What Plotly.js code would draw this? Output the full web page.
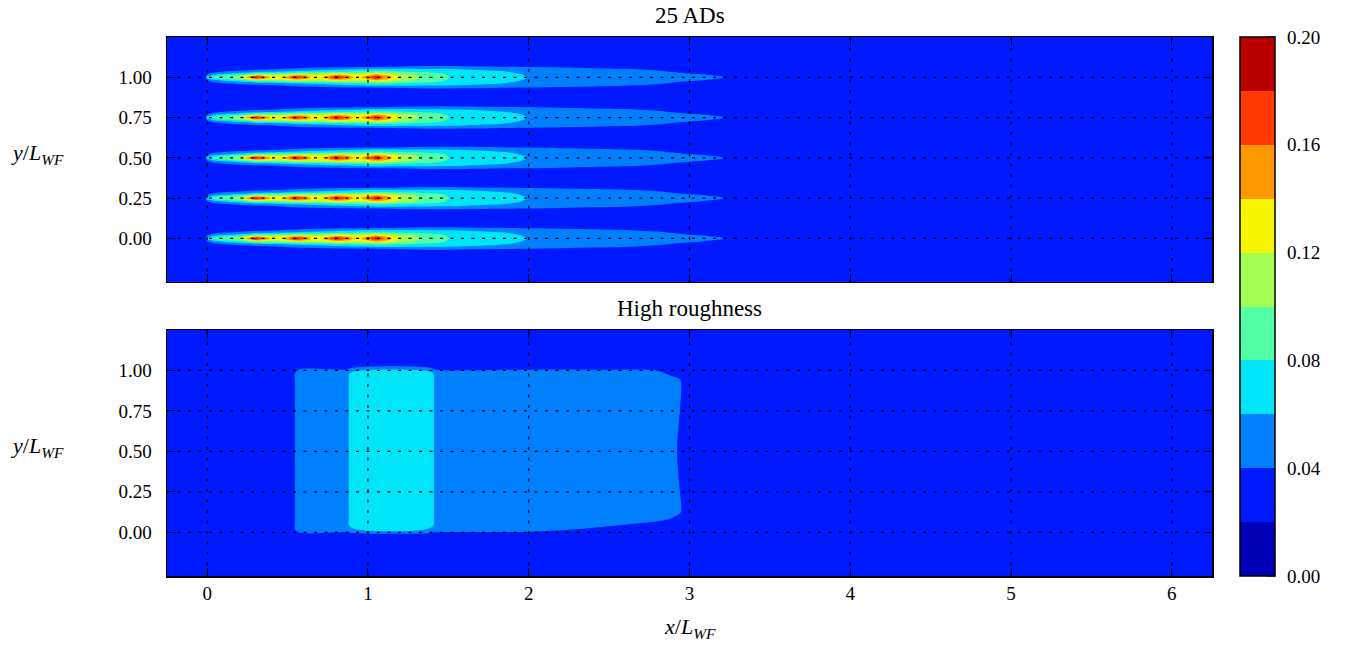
<!DOCTYPE html>
<html>
<head>
<meta charset="utf-8">
<script src="https://cdn.plot.ly/plotly-3.0.1.min.js"></script>
<style>html,body{margin:0;padding:0;background:#fff;}#chart{width:1345px;height:646px;}</style>
</head>
<body>
<div id="chart"></div>
<script>
// ---------------- DATA ----------------
// Colour levels of the filled contours
const levelStart = 0.0;
const levelEnd = 0.2;
const levelStep = 0.02;
const bandColors = ['#0000b9','#0019ff','#007fff','#00e5f7','#52ffa4','#a4ff52','#f7f500','#ff9700','#ff3900','#b90000'];
const colorbarTicks = [0.00, 0.04, 0.08, 0.12, 0.16, 0.20];
const colorbarTickText = ['0.00','0.04','0.08','0.12','0.16','0.20'];

// Axis ticks
const xTicks = [0, 1, 2, 3, 4, 5, 6];
const xTickText = ['0','1','2','3','4','5','6'];
const yTicks = [0, 0.25, 0.5, 0.75, 1.0];
const yTickText = ['0.00','0.25','0.50','0.75','1.00'];

// Ambient value of the field (outside wakes)
const background = 0.03;

// ---- Top panel "25 ADs": five identical wake rows
const wakeRowsY = [0, 0.25, 0.5, 0.75, 1.0];
// distance from the wake centre line at which values were read
const wakeOffsets = [0, 0.01, 0.02, 0.035, 0.05, 0.065, 0.08];
// streamwise sample positions
const wakeX = [-0.25, -0.01, 0.00, 0.05, 0.10, 0.15, 0.20, 0.25, 0.30, 0.35, 0.40, 0.45, 0.50, 0.55, 0.60, 0.65, 0.70,
  0.75, 0.80, 0.85, 0.90, 0.95, 1.00, 1.05, 1.10, 1.20, 1.30, 1.40, 1.50, 1.60, 1.80, 2.00, 2.20, 2.40, 2.60, 2.80,
  3.00, 3.20, 3.30, 3.50, 6.25];
// value at [x sample][offset]
const wakeValues = [
  [.03,.03,.03,.03,.03,.03,.03],
  [.03,.03,.03,.03,.03,.03,.03],
  [.075,.055,.038,.03,.03,.03,.03],
  [.088,.075,.055,.036,.03,.03,.03],
  [.092,.084,.062,.041,.031,.03,.03],
  [.097,.09,.068,.043,.032,.03,.03],
  [.11,.098,.074,.046,.033,.03,.03],
  [.15,.12,.08,.049,.034,.03,.03],
  [.188,.15,.095,.055,.036,.031,.03],
  [.165,.14,.096,.057,.037,.031,.03],
  [.137,.128,.097,.059,.039,.031,.03],
  [.133,.125,.099,.061,.041,.032,.03],
  [.152,.135,.102,.063,.043,.032,.03],
  [.188,.155,.11,.066,.045,.033,.03],
  [.166,.148,.112,.068,.047,.034,.03],
  [.137,.131,.112,.07,.049,.034,.03],
  [.134,.129,.113,.072,.051,.035,.03],
  [.153,.138,.116,.074,.053,.036,.031],
  [.188,.16,.125,.077,.055,.036,.031],
  [.168,.152,.124,.079,.057,.037,.031],
  [.142,.137,.118,.081,.059,.037,.031],
  [.137,.133,.117,.083,.061,.038,.032],
  [.155,.142,.122,.084,.063,.038,.032],
  [.188,.165,.135,.085,.065,.039,.032],
  [.158,.148,.128,.085,.065,.039,.032],
  [.121,.118,.108,.082,.064,.041,.032],
  [.102,.101,.097,.079,.063,.042,.032],
  [.092,.091,.088,.076,.062,.043,.033],
  [.0805,.0795,.078,.072,.061,.043,.033],
  [.076,.075,.074,.069,.059,.042,.033],
  [.068,.067,.066,.062,.056,.0405,.033],
  [.0595,.059,.058,.056,.05,.039,.032],
  [.056,.055,.054,.052,.047,.037,.031],
  [.052,.051,.05,.049,.044,.035,.031],
  [.049,.048,.047,.045,.041,.035,.03],
  [.046,.045,.044,.042,.038,.033,.03],
  [.043,.042,.041,.037,.034,.031,.03],
  [.0405,.0395,.038,.035,.032,.03,.03],
  [.037,.036,.035,.033,.03,.03,.03],
  [.032,.031,.03,.03,.03,.03,.03],
  [.03,.03,.03,.03,.03,.03,.03]
];

// ---- Bottom panel "High roughness"
const roughX = [-0.25, 0.52, 0.57, 0.86, 0.91, 1.38, 1.43, 2.00, 2.45, 2.80, 2.88, 2.94, 2.99, 6.25];
const roughY = [-0.30, -0.02, 0.02, 0.05, 0.09, 0.13, 0.50, 0.88, 0.94, 0.98, 1.03, 1.30];
// value at [y sample][x sample]
const roughValues = [
  [.03,.03,.03,.03,.03,.03,.03,.03,.03,.03,.03,.03,.03,.03],
  [.03,.03,.03,.03,.03,.03,.03,.03,.03,.03,.03,.03,.03,.03],
  [.03,.03,.05,.05,.058,.058,.05,.047,.037,.032,.031,.03,.03,.03],
  [.03,.03,.05,.05,.075,.075,.05,.05,.044,.036,.034,.032,.03,.03],
  [.03,.03,.05,.05,.075,.075,.05,.05,.05,.045,.041,.036,.03,.03],
  [.03,.03,.05,.05,.075,.075,.05,.05,.05,.05,.049,.042,.03,.03],
  [.03,.03,.05,.05,.075,.075,.05,.05,.05,.05,.05,.036,.03,.03],
  [.03,.03,.05,.05,.075,.075,.05,.05,.05,.05,.05,.042,.03,.03],
  [.03,.03,.05,.05,.075,.075,.05,.05,.05,.05,.048,.041,.03,.03],
  [.03,.03,.05,.05,.072,.072,.05,.05,.05,.046,.037,.033,.03,.03],
  [.03,.03,.03,.03,.03,.03,.03,.03,.03,.03,.03,.03,.03,.03],
  [.03,.03,.03,.03,.03,.03,.03,.03,.03,.03,.03,.03,.03,.03]
];

// ---------------- BUILD GRIDS ----------------
const topY = [-0.30];
const topRowRef = [null];
wakeRowsY.forEach(yc => {
  for (let k = wakeOffsets.length - 1; k >= 1; k--) { topY.push(yc - wakeOffsets[k]); topRowRef.push(k); }
  topY.push(yc); topRowRef.push(0);
  for (let k = 1; k < wakeOffsets.length; k++) { topY.push(yc + wakeOffsets[k]); topRowRef.push(k); }
});
topY.push(1.30); topRowRef.push(null);
const topZ = topY.map((y, j) => wakeX.map((x, i) => topRowRef[j] === null ? background : wakeValues[i][topRowRef[j]]));

const colorscale = [];
bandColors.forEach((c, i) => { colorscale.push([i / bandColors.length, c]); colorscale.push([(i + 1) / bandColors.length, c]); });

const contourCommon = {
  type: 'contour',
  zmin: levelStart, zmax: levelEnd,
  autocontour: false,
  contours: {start: levelStart, end: levelEnd, size: levelStep, coloring: 'fill', showlines: false},
  colorscale: colorscale,
  line: {width: 0, smoothing: 1},
  hoverinfo: 'skip'
};

const serif = 'Liberation Serif, Times New Roman, serif';

// colour bar geometry (paper coordinates of the plotting area)
const cbLeft = 1.0268, cbThick = 35;

const traceTop = Object.assign({}, contourCommon, {
  x: wakeX, y: topY, z: topZ, xaxis: 'x', yaxis: 'y',
  showscale: true,
  colorbar: {
    x: cbLeft, xanchor: 'left', xref: 'paper',
    y: 0.5, yanchor: 'middle', len: 1, lenmode: 'fraction',
    thickness: cbThick, thicknessmode: 'pixels', xpad: 0, ypad: 0,
    outlinecolor: '#000', outlinewidth: 1.5,
    tickmode: 'array', tickvals: colorbarTicks, ticktext: colorbarTickText,
    ticks: 'outside', ticklen: 8, tickcolor: 'rgba(0,0,0,0)', tickwidth: 1,
    tickfont: {family: serif, size: 19, color: '#000'}
  }
});
const traceBot = Object.assign({}, contourCommon, {
  x: roughX, y: roughY, z: roughValues, xaxis: 'x2', yaxis: 'y2', showscale: false
});

const axisCommon = {
  showline: true, linecolor: '#000', linewidth: 1.5, mirror: 'ticks',
  ticks: 'inside', ticklen: 8, tickcolor: '#000', tickwidth: 1,
  showgrid: false, zeroline: false, tickmode: 'array',
  tickfont: {family: serif, size: 19, color: '#000'}
};

const xRange = [-0.25, 6.25];
const yRange = [-0.27, 1.25];

const layout = {
  width: 1345, height: 646,
  margin: {l: 167, r: 133, t: 37, b: 70},
  paper_bgcolor: '#fff', plot_bgcolor: '#fff',
  showlegend: false,
  xaxis: Object.assign({}, axisCommon, {range: xRange, anchor: 'y', tickvals: xTicks, ticktext: xTickText, showticklabels: false, domain: [0, 1]}),
  yaxis: Object.assign({}, axisCommon, {range: yRange, domain: [0.5455, 1], anchor: 'x', tickvals: yTicks, ticktext: yTickText, ticklabelstandoff: 10}),
  xaxis2: Object.assign({}, axisCommon, {range: xRange, anchor: 'y2', tickvals: xTicks, ticktext: xTickText, domain: [0, 1], ticklabelstandoff: 0}),
  yaxis2: Object.assign({}, axisCommon, {range: yRange, domain: [0, 0.4564], anchor: 'x2', tickvals: yTicks, ticktext: yTickText, ticklabelstandoff: 10}),
  shapes: [],
  annotations: [
    {text: '25 ADs', xref: 'paper', yref: 'paper', x: 0.5, y: 1.039, xanchor: 'center', yanchor: 'middle', showarrow: false, font: {family: serif, size: 23, color: '#000'}},
    {text: 'High roughness', xref: 'paper', yref: 'paper', x: 0.5, y: 0.4965, xanchor: 'center', yanchor: 'middle', showarrow: false, font: {family: serif, size: 23, color: '#000'}},
    {text: '<i>y</i>/<i>L</i><sub><i>WF</i></sub>', xref: 'paper', yref: 'paper', x: -0.151, y: 0.783, xanchor: 'left', yanchor: 'middle', showarrow: false, font: {family: serif, size: 22, color: '#000'}},
    {text: '<i>y</i>/<i>L</i><sub><i>WF</i></sub>', xref: 'paper', yref: 'paper', x: -0.151, y: 0.239, xanchor: 'left', yanchor: 'middle', showarrow: false, font: {family: serif, size: 22, color: '#000'}},
    {text: '<i>x</i>/<i>L</i><sub><i>WF</i></sub>', xref: 'paper', yref: 'paper', x: 0.5, y: -0.097, xanchor: 'center', yanchor: 'middle', showarrow: false, font: {family: serif, size: 22, color: '#000'}}
  ]
};

// dotted grid drawn above the filled contours, at the tick positions
const gridLine = {color: '#000', width: 1.2, dash: '3px,7.5px'};
[['x','y'], ['x2','y2']].forEach(([xa, ya]) => {
  xTicks.forEach(v => layout.shapes.push({type: 'line', layer: 'above', xref: xa, yref: ya + ' domain', x0: v, x1: v, y0: 0, y1: 1, line: gridLine}));
  yTicks.forEach(v => layout.shapes.push({type: 'line', layer: 'above', xref: xa + ' domain', yref: ya, x0: 0, x1: 1, y0: v, y1: v, line: gridLine}));
});
// short inward tick marks on the right edge of the colour bar
const plotW = 1345 - 167 - 133;
const cbRight = cbLeft + cbThick / plotW;
colorbarTicks.forEach(v => layout.shapes.push({type: 'line', layer: 'above', xref: 'paper', yref: 'paper',
  x0: cbRight - 8 / plotW, x1: cbRight, y0: (v - levelStart) / (levelEnd - levelStart), y1: (v - levelStart) / (levelEnd - levelStart),
  line: {color: '#000', width: 1}}));

Plotly.newPlot('chart', [traceTop, traceBot], layout, {displayModeBar: false, staticPlot: true});
</script>
</body>
</html>
